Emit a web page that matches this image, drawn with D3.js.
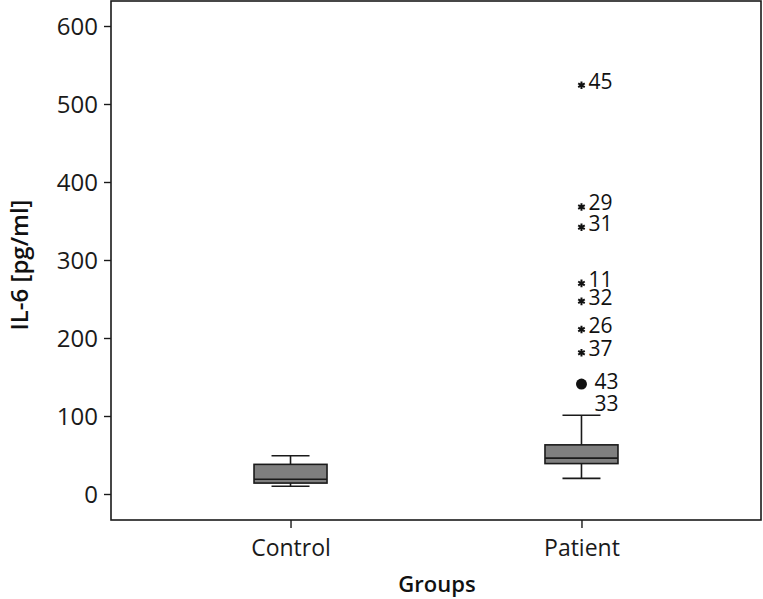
<!DOCTYPE html>
<html><head><meta charset="utf-8">
<script src="https://cdn.jsdelivr.net/npm/d3@7"></script>
<style>body{margin:0;background:#fff;} svg{display:block;font-family:"Open Sans",sans-serif;}</style>
</head><body>
<svg id="c" width="763" height="599"></svg>
<script>
const groups = ["Control", "Patient"];
const whiskerLow = [10, 20];
const q1 = [14, 39];
const median = [19, 46];
const q3 = [38, 63];
const whiskerHigh = [49, 101];
const outlierIds = ["45", "29", "31", "11", "32", "26", "37", "43"];
const outlierValues = [524, 368, 342, 270, 247, 211, 181, 141];
const outlierKinds = ["extreme", "extreme", "extreme", "extreme", "extreme", "extreme", "extreme", "outlier"];
const extraLabelIds = ["33"];
const extraLabelValues = [116];
const yTicks = [0, 100, 200, 300, 400, 500, 600];

const svg = d3.select("#c");
const L = 111, R = 761, T = 1, B = 520;
const x = d3.scalePoint().domain(groups).range([L, R]).padding(0.617);
const y = d3.scaleLinear().domain([0, 600]).range([494, 26]);
const boxW = 73, capW = 38;

svg.append("rect").attr("x", L).attr("y", T).attr("width", R - L).attr("height", B - T)
  .attr("fill", "none").attr("stroke", "#1a1a1a").attr("stroke-width", 1.6);

const ya = svg.append("g").attr("transform", `translate(${L},0)`)
  .call(d3.axisLeft(y).tickValues(yTicks).tickSize(7).tickPadding(6));
ya.select(".domain").remove();
ya.selectAll("line").attr("stroke", "#1a1a1a").attr("stroke-width", 1.4);
ya.selectAll("text").attr("font-size", 24).attr("fill", "#1a1a1a").attr("font-family", "Open Sans").attr("dy", "0.34em");

const xa = svg.append("g").attr("transform", `translate(0,${B})`)
  .call(d3.axisBottom(x).tickSize(8).tickPadding(12));
xa.select(".domain").remove();
xa.selectAll("line").attr("stroke", "#1a1a1a").attr("stroke-width", 1.4);
xa.selectAll("text").attr("font-size", 23).attr("fill", "#1a1a1a").attr("font-family", "Open Sans");

svg.append("text").attr("x", 437).attr("y", 592).attr("text-anchor", "middle")
  .attr("font-size", 22).attr("font-weight", 600).attr("fill", "#111").text("Groups");
svg.append("text").attr("transform", "translate(28,265) rotate(-90)").attr("text-anchor", "middle")
  .attr("font-size", 24).attr("font-weight", 600).attr("fill", "#111").text("IL-6 [pg/ml]");

groups.forEach((g, i) => {
  const cx = x(g);
  const gg = svg.append("g").attr("stroke", "#1a1a1a").attr("stroke-width", 1.6);
  gg.append("line").attr("x1", cx).attr("x2", cx).attr("y1", y(whiskerHigh[i])).attr("y2", y(q3[i]));
  gg.append("line").attr("x1", cx).attr("x2", cx).attr("y1", y(q1[i])).attr("y2", y(whiskerLow[i]));
  gg.append("line").attr("x1", cx - capW/2).attr("x2", cx + capW/2).attr("y1", y(whiskerHigh[i])).attr("y2", y(whiskerHigh[i]));
  gg.append("line").attr("x1", cx - capW/2).attr("x2", cx + capW/2).attr("y1", y(whiskerLow[i])).attr("y2", y(whiskerLow[i]));
  gg.append("rect").attr("x", cx - boxW/2).attr("width", boxW).attr("y", y(q3[i])).attr("height", y(q1[i]) - y(q3[i]))
    .attr("fill", "#7f7f7f");
  gg.append("line").attr("x1", cx - boxW/2).attr("x2", cx + boxW/2).attr("y1", y(median[i])).attr("y2", y(median[i]));
});

const px = x("Patient");
outlierValues.forEach((v, i) => {
  if (outlierKinds[i] === "extreme") {
    svg.append("path").attr("d", d3.symbol(d3.symbolAsterisk, 40)())
      .attr("transform", `translate(${px},${y(v)})`).attr("stroke", "#111").attr("stroke-width", 2).attr("fill", "none");
    svg.append("text").attr("x", px + 7).attr("y", y(v) - 4).attr("dy", "0.35em").attr("font-size", 21).attr("fill", "#111").text(outlierIds[i]);
  } else {
    svg.append("circle").attr("cx", px).attr("cy", y(v)).attr("r", 5.5).attr("fill", "#111");
    svg.append("text").attr("x", px + 13).attr("y", y(v) - 2).attr("dy", "0.35em").attr("font-size", 21).attr("fill", "#111").text(outlierIds[i]);
  }
});
extraLabelIds.forEach((id, i) => {
  svg.append("text").attr("x", px + 13).attr("y", y(extraLabelValues[i])).attr("dy", "0.35em").attr("font-size", 21).attr("fill", "#111").text(id);
});
</script>
</body></html>
